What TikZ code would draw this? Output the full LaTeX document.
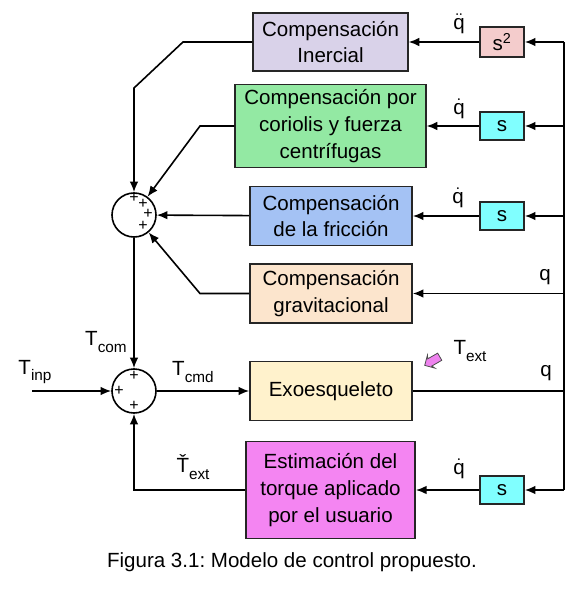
\documentclass[tikz,border=0pt]{standalone}
\usepackage{amsmath}
\usepackage{fontspec}
\setmainfont{Liberation Sans}
\usetikzlibrary{arrows.meta,shapes.arrows}
\frenchspacing

\definecolor{cinercial}{HTML}{D9D2E9}
\definecolor{ccoriolis}{HTML}{93E9A3}
\definecolor{cfriccion}{HTML}{A4C2F4}
\definecolor{cgravedad}{HTML}{FCE5CD}
\definecolor{cexo}{HTML}{FFF2CC}
\definecolor{cestima}{HTML}{F485F2}
\definecolor{cesedos}{HTML}{F4CCCC}
\definecolor{cese}{HTML}{80FFFF}
\definecolor{ctext}{HTML}{EE82EE}

\newcommand{\lowsub}[1]{\raisebox{-0.6ex}{\fontsize{11.5}{13}\selectfont #1}}

\tikzset{
	bloque/.style={draw=black!85,line width=1.2pt,align=center,inner sep=0pt,font=\fontsize{15.4}{20}\selectfont},
	sbox/.style={bloque,fill=cese,minimum width=33pt,minimum height=21pt},
	sumador/.style={circle,draw,line width=1.2pt,minimum size=33pt,inner sep=0pt},
	flecha/.style={-{Latex[length=8pt,width=6.5pt]},line width=1.2pt},
	linea/.style={line width=1.2pt},
	etiqueta/.style={font=\fontsize{15.4}{20}\selectfont,inner sep=0pt},
	signo/.style={font=\fontsize{12}{14}\selectfont,inner sep=0pt}
}

\begin{document}
\begin{tikzpicture}[x=0.75pt,y=-0.75pt]
	\path[fill=white,use as bounding box] (0,0) rectangle (586,591);

	\node[bloque,fill=cinercial,minimum width=116pt,minimum height=43.5pt] (iner) at (330.5,42) {Compensación\\Inercial};
	\node[bloque,fill=ccoriolis,minimum width=143pt,minimum height=62pt] (cor) at (330.5,126) {Compensación por\\coriolis y fuerza\\centrífugas};
	\node[bloque,fill=cfriccion,minimum width=121.5pt,minimum height=44pt] (fric) at (331,216) {Compensación\\de la fricción};
	\node[bloque,fill=cgravedad,minimum width=121.5pt,minimum height=44pt] (grav) at (331,293.5) {Compensación\\gravitacional};
	\node[bloque,fill=cexo,minimum width=121.5pt,minimum height=44pt] (exo) at (331,391) {Exoesqueleto};
	\node[bloque,fill=cestima,minimum width=127pt,minimum height=73pt] (est) at (330.5,490) {Estimación del\\torque aplicado\\por el usuario};

	\node[sbox,fill=cesedos,minimum height=22.5pt] (sdos) at (502,42) {s\textsuperscript{2}};
	\foreach \y/\n in {126/scor,216/sfric,490/sest}
		\node[sbox] (\n) at (502,\y) {s};

	\node[sumador] (suma) at (134,215) {};
	\node[sumador] (sumb) at (134,391) {};
	\foreach \dx/\dy in {0/-17,9/-11,14/-1,9/11}
		\node[signo] at ([shift={(\dx,\dy)}]suma) {+};
	\foreach \dx/\dy in {0/-15,-15/0,0/15}
		\node[signo] at ([shift={(\dx,\dy)}]sumb) {+};

	\coordinate (bsdos) at (564,42);
	\coordinate (bscor) at (564,126);
	\coordinate (bsfric) at (564,216);
	\coordinate (bgrav) at (564,293.5);
	\coordinate (bexo) at (564,391);
	\coordinate (bsest) at (564,490);
	\coordinate (inp) at (32,391);

	\draw[linea] (bsdos) -- (bsest);
	\draw[flecha] (bsdos) -- (sdos);
	\draw[flecha] (sdos) -- (iner);
	\foreach \n/\b/\m in {scor/bscor/cor,sfric/bsfric/fric,sest/bsest/est} {
		\draw[flecha] (\b) -- (\n);
		\draw[flecha] (\n) -- (\m);
	};
	\draw[flecha] (bgrav) -- (grav);
	\draw[linea] (exo) -- (bexo);

	\draw[flecha] (iner.west) -- (183,42) -- (134,88) -- (suma);
	\draw[flecha] (cor.west) -- (200,126) -- (suma);
	\draw[flecha] (fric) -- (suma);
	\draw[flecha] (grav.west) -- (200,293.5) -- (suma);
	\draw[flecha] (suma) -- (sumb);
	\draw[flecha] (inp) -- (sumb);
	\draw[flecha] (sumb) -- (exo);
	\draw[flecha] (est.west) -| (sumb);

	\node[etiqueta] (lqdd) at (459,24) {$\ddot{\text{q}}$};
	\node[etiqueta] (lqcor) at (459,109) {$\dot{\text{q}}$};
	\node[etiqueta] (lqfric) at (458,198) {$\dot{\text{q}}$};
	\node[etiqueta] (lqgrav) at (545,277) {q};
	\node[etiqueta] (lqexo) at (546,373) {q};
	\node[etiqueta] (lqest) at (459,469) {$\dot{\text{q}}$};

	\node[etiqueta] (ltcom) at (106,342) {T\lowsub{com}};
	\node[etiqueta] (ltinp) at (35,372) {T\lowsub{inp}};
	\node[etiqueta] (ltcmd) at (193,372) {T\lowsub{cmd}};
	\node[etiqueta] (ltest) at (193,467) {Ť\lowsub{ext}};
	\node[etiqueta] (ltext) at (470,351) {T\lowsub{ext}};
	\node[single arrow,draw=black!70,fill=ctext,line width=0.6pt,inner sep=2.8pt,
		minimum height=13pt,single arrow head extend=2.5pt,
		single arrow head indent=1.2pt,rotate=210] (fext) at (434,360) {};

	\node[etiqueta] (caption) at (292,562) {Figura 3.1: Modelo de control propuesto.};
\end{tikzpicture}
\end{document}
